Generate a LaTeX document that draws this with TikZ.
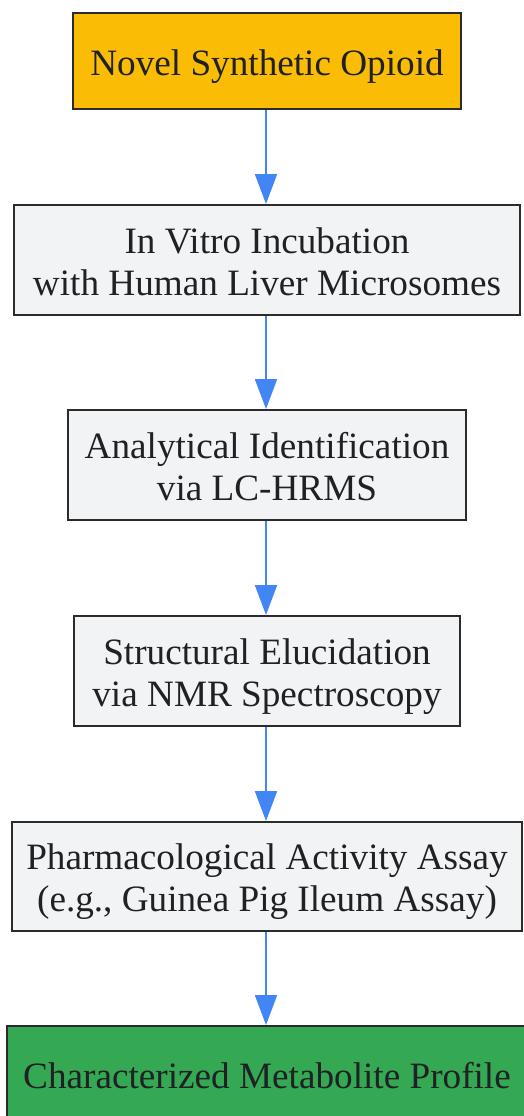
\documentclass[tikz,border=0pt]{standalone}
\usepackage{fontspec}
\setmainfont{Liberation Serif}
\usetikzlibrary{arrows.meta}
\definecolor{gold}{HTML}{FBBC05}
\definecolor{gray1}{HTML}{F1F3F4}
\definecolor{green1}{HTML}{34A853}
\definecolor{blue1}{HTML}{4285F4}
\definecolor{txt}{HTML}{202124}
\definecolor{bord}{HTML}{2B2B2B}
\tikzset{
  box/.style={draw=bord, line width=2pt, fill=gray1, inner sep=0pt},
  lbl/.style={text=txt, anchor=base, inner sep=0pt, font=\fontsize{37.2}{42}\selectfont},
  arr/.style={draw=blue1, line width=2pt, -{Triangle[length=30pt,width=22pt]}, shorten >=0pt}
}
\begin{document}
\begin{tikzpicture}[x=1pt,y=-1pt]
\useasboundingbox (0,0) rectangle (524,1116);
\clip (0,0) rectangle (524,1116);
\node[box, fill=gold, minimum width=388pt, minimum height=96pt] (n1) at (267,61) {};
\node[box, minimum width=506pt, minimum height=110pt] (n2) at (267,260) {};
\node[box, minimum width=398pt, minimum height=110pt] (n3) at (267,465) {};
\node[box, minimum width=386pt, minimum height=110pt] (n4) at (267,671) {};
\node[box, minimum width=510pt, minimum height=109pt] (n5) at (267,876.5) {};
\node[box, fill=green1, minimum width=520pt, minimum height=96pt] (n6) at (267,1074) {};
\node[lbl] (t1) at (267,75) {Novel Synthetic Opioid};
\node[lbl] (t2a) at (267,253) {In Vitro Incubation};
\node[lbl] (t2b) at (267,295) {with Human Liver Microsomes};
\node[lbl] (t3a) at (267,458) {Analytical Identification};
\node[lbl] (t3b) at (267,500) {via LC-HRMS};
\node[lbl] (t4a) at (267,664) {Structural Elucidation};
\node[lbl] (t4b) at (267,706) {via NMR Spectroscopy};
\node[lbl] (t5a) at (267,869) {Pharmacological Activity Assay};
\node[lbl] (t5b) at (267,911) {(e.g., Guinea Pig Ileum Assay)};
\node[lbl] (t6) at (267,1088) {Characterized Metabolite Profile};
\draw[arr] (n1.south -| 266,0) -- (n2.north -| 266,0);
\draw[arr] (n2.south -| 266,0) -- (n3.north -| 266,0);
\draw[arr] (n3.south -| 266,0) -- (n4.north -| 266,0);
\draw[arr] (n4.south -| 266,0) -- (n5.north -| 266,0);
\draw[arr] (n5.south -| 266,0) -- (n6.north -| 266,0);
\end{tikzpicture}
\end{document}
